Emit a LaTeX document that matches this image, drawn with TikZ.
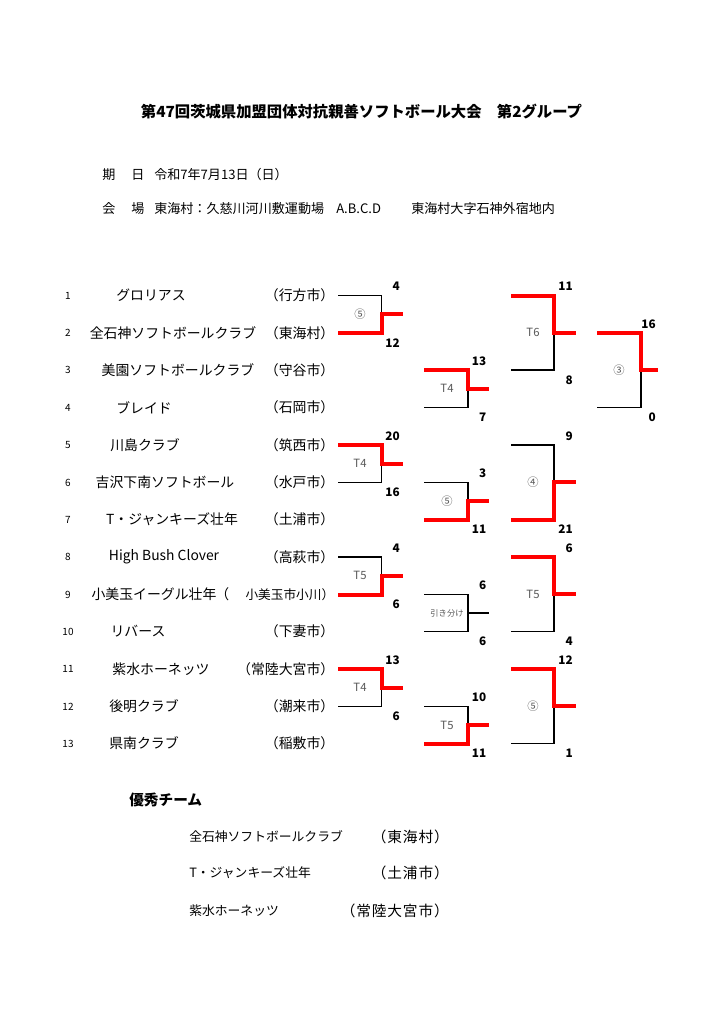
\documentclass[tikz,border=0pt]{standalone}
\usepackage{fontspec}
\setmainfont{Noto Sans CJK JP}

\begin{document}
\begin{tikzpicture}[
		x=0.75pt, y=-0.75pt,
		every node/.style={inner sep=0pt},
		title/.style={font=\fontsize{11.5}{14}\selectfont\bfseries},
		head/.style={anchor=west, font=\fontsize{9.8}{12}\selectfont},
		num/.style={font=\fontsize{7.5}{9}\selectfont},
		team/.style={font=\fontsize{10.4}{12}\selectfont},
		city/.style={anchor=east, font=\fontsize{10.4}{12}\selectfont},
		best/.style={anchor=west, font=\fontsize{9.6}{12}\selectfont},
		bestcity/.style={anchor=east, font=\fontsize{11}{13}\selectfont\addfontfeatures{LetterSpace=6}},
		score/.style={anchor=east, font=\fontsize{8.8}{10}\selectfont\bfseries},
		tag/.style={text=black!65, font=\fontsize{8.5}{10}\selectfont},
		lose/.style={draw=black, line width=1pt},
		win/.style={draw=red, line width=3pt}
		]
		\path[use as bounding box, fill=white] (0,0) rectangle (724,1024);
		
		\node (title) at (361.5,112) [title] {第47回茨城県加盟団体対抗親善ソフトボール大会　第2グループ};
		\node (hd1) at (102,175) [head] {期};
		\node (hd2) at (131,175) [head] {日};
		\node (hd3) at (154,175) [head] {令和7年7月13日（日）};
		\node (hv1) at (102,209) [head] {会};
		\node (hv2) at (131,209) [head] {場};
		\node (hv3) at (154,209) [head] {東海村：久慈川河川敷運動場};
		\node (hv4) at (336,209) [head] {A.B.C.D};
		\node (hv5) at (411,209) [head] {東海村大字石神外宿地内};
		
		% teams
		\node (n1) at (68,295.5) [num] {1};
		\node (t1) at (151,295.5) [team] {グロリアス};
		\node (c1) at (334.5,295.5) [city] {（行方市）};
		\node (n2) at (68,333) [num] {2};
		\node (t2) at (173,333) [team] {全石神ソフトボールクラブ};
		\node (c2) at (334.5,333) [city] {（東海村）};
		\node (n3) at (68,370) [num] {3};
		\node (t3) at (178,370) [team] {美園ソフトボールクラブ};
		\node (c3) at (334.5,370) [city] {（守谷市）};
		\node (n4) at (68,407.5) [num] {4};
		\node (t4) at (144,407.5) [team] {ブレイド};
		\node (c4) at (334.5,407.5) [city] {（石岡市）};
		\node (n5) at (68,445) [num] {5};
		\node (t5) at (145,445) [team] {川島クラブ};
		\node (c5) at (334.5,445) [city] {（筑西市）};
		\node (n6) at (68,482.5) [num] {6};
		\node (t6) at (165,482.5) [team] {吉沢下南ソフトボール};
		\node (c6) at (334.5,482.5) [city] {（水戸市）};
		\node (n7) at (68,519.5) [num] {7};
		\node (t7) at (172,519.5) [team] {T・ジャンキーズ壮年};
		\node (c7) at (334.5,519.5) [city] {（土浦市）};
		\node (n8) at (68,557) [num] {8};
		\node (t8) at (164,557) [team] {High Bush Clover};
		\node (c8) at (334.5,557) [city] {（高萩市）};
		\node (n9) at (68,594.5) [num] {9};
		\node (t9) at (154,594.5) [team] {小美玉イーグル壮年};
		\node (c9a) at (215,594.5) [team, anchor=west] {（};
		\node (c9) at (334.5,594.5) [city, font=\fontsize{9.5}{11}\selectfont] {小美玉市小川）};
		\node (n10) at (68,631.5) [num] {10};
		\node (t10) at (138,631.5) [team] {リバース};
		\node (c10) at (334.5,631.5) [city] {（下妻市）};
		\node (n11) at (68,669) [num] {11};
		\node (t11) at (161,669) [team] {紫水ホーネッツ};
		\node (c11) at (334.5,669) [city] {（常陸大宮市）};
		\node (n12) at (68,706.5) [num] {12};
		\node (t12) at (144,706.5) [team] {後明クラブ};
		\node (c12) at (334.5,706.5) [city] {（潮来市）};
		\node (n13) at (68,743.5) [num] {13};
		\node (t13) at (144,743.5) [team] {県南クラブ};
		\node (c13) at (334.5,743.5) [city] {（稲敷市）};
		
		% column 1
		\draw [lose] (338,295.5) -| (381.5,314.25);
		\draw [win] (338,333) -| (381.5,314.25) -- (402.5,314.25);
		\node (m1) at (360,314.25) [tag] {⑤};
		\node (s1a) at (400,286.5) [score] {4};
		\node (s1b) at (400,343) [score] {12};
		\draw [lose] (338,482.5) -| (381.5,463.75);
		\draw [win] (338,445) -| (381.5,463.75) -- (402.5,463.75);
		\node (m2) at (360,463.75) [tag] {T4};
		\node (s2a) at (400,436) [score] {20};
		\node (s2b) at (400,492.5) [score] {16};
		\draw [lose] (338,557) -| (381.5,575.75);
		\draw [win] (338,594.5) -| (381.5,575.75) -- (402.5,575.75);
		\node (m3) at (360,575.75) [tag] {T5};
		\node (s3a) at (400,548) [score] {4};
		\node (s3b) at (400,604.5) [score] {6};
		\draw [lose] (338,706.5) -| (381.5,687.75);
		\draw [win] (338,669) -| (381.5,687.75) -- (402.5,687.75);
		\node (m4) at (360,687.75) [tag] {T4};
		\node (s4a) at (400,660) [score] {13};
		\node (s4b) at (400,716.5) [score] {6};
		
		% column 2
		\draw [lose] (424,407.5) -| (468,388.75);
		\draw [win] (424,370) -| (468,388.75) -- (489,388.75);
		\node (m5) at (447,388.75) [tag] {T4};
		\node (s5a) at (486.5,361) [score] {13};
		\node (s5b) at (486.5,417.5) [score] {7};
		\draw [lose] (424,482.5) -| (468,501);
		\draw [win] (424,519.5) -| (468,501) -- (489,501);
		\node (m6) at (447,501) [tag] {⑤};
		\node (s6a) at (486.5,473.5) [score] {3};
		\node (s6b) at (486.5,529.5) [score] {11};
		\draw [lose] (424,594.5) -| (468,631.5) -- (424,631.5);
		\draw [lose] (468,613) -- (489,613);
		\node (m7) at (447,613) [tag, font=\fontsize{6.2}{8}\selectfont] {引き分け};
		\node (s7a) at (486.5,585.5) [score] {6};
		\node (s7b) at (486.5,641.5) [score] {6};
		\draw [lose] (424,706.5) -| (468,725);
		\draw [win] (424,743.5) -| (468,725) -- (489,725);
		\node (m8) at (447,725) [tag] {T5};
		\node (s8a) at (486.5,697.5) [score] {10};
		\node (s8b) at (486.5,753.5) [score] {11};
		
		% column 3
		\draw [lose] (511,370) -| (554,332.75);
		\draw [win] (511,295.5) -| (554,332.75) -- (576,332.75);
		\node (m9) at (533,332.75) [tag] {T6};
		\node (s9a) at (573,286.5) [score] {11};
		\node (s9b) at (573,380) [score] {8};
		\draw [lose] (511,445) -| (554,482.25);
		\draw [win] (511,519.5) -| (554,482.25) -- (576,482.25);
		\node (m10) at (533,482.25) [tag] {④};
		\node (s10a) at (573,436) [score] {9};
		\node (s10b) at (573,529.5) [score] {21};
		\draw [lose] (511,631.5) -| (554,594.25);
		\draw [win] (511,557) -| (554,594.25) -- (576,594.25);
		\node (m11) at (533,594.25) [tag] {T5};
		\node (s11a) at (573,548) [score] {6};
		\node (s11b) at (573,641.5) [score] {4};
		\draw [lose] (511,743.5) -| (554,706.25);
		\draw [win] (511,669) -| (554,706.25) -- (576,706.25);
		\node (m12) at (533,706.25) [tag] {⑤};
		\node (s12a) at (573,660) [score] {12};
		\node (s12b) at (573,753.5) [score] {1};
		
		% final
		\draw [lose] (597,407.5) -| (641,370.25);
		\draw [win] (597,333) -| (641,370.25) -- (658,370.25);
		\node (m13) at (619,370.25) [tag] {③};
		\node (s13a) at (656,324) [score] {16};
		\node (s13b) at (656,417.5) [score] {0};
		
		% best teams
		\node (bt) at (129,800) [anchor=west, font=\fontsize{11}{13}\selectfont\bfseries] {優秀チーム};
		\node (b1) at (189,836.5) [best] {全石神ソフトボールクラブ};
		\node (b1c) at (449,836.5) [bestcity] {（東海村）};
		\node (b2) at (189,873) [best] {T・ジャンキーズ壮年};
		\node (b2c) at (449,873) [bestcity] {（土浦市）};
		\node (b3) at (189,910.5) [best] {紫水ホーネッツ};
		\node (b3c) at (449,910.5) [bestcity] {（常陸大宮市）};
	\end{tikzpicture}
\end{document}
